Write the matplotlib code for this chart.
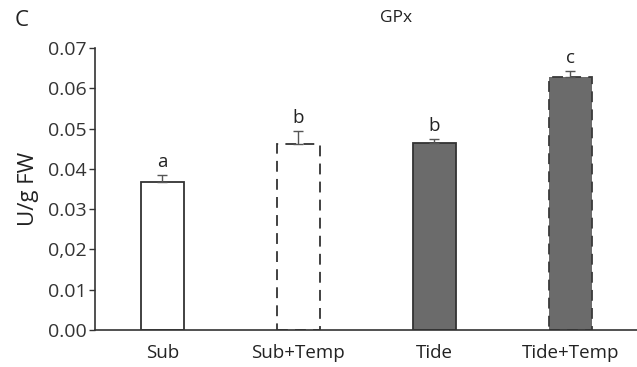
import numpy as np
import matplotlib.pyplot as plt

plt.rcParams['font.family'] = ['Open Sans', 'DejaVu Sans']

groups = ['Sub', 'Sub+Temp', 'Tide', 'Tide+Temp']
gpx = [0.0367, 0.0462, 0.0464, 0.0628]
gpx_err = [0.0017, 0.0032, 0.0010, 0.0015]
letters = ['a', 'b', 'b', 'c']
yticks = [0.00, 0.01, 0.02, 0.03, 0.04, 0.05, 0.06, 0.07]
ytick_labels = ['0.00', '0.01', '0,02', '0.03', '0.04', '0.05', '0.06', '0.07']

fills = ['white', 'white', '#6b6b6b', '#6b6b6b']
edges = ['#333333', '#333333', '#333333', '#3a3a3a']
styles = ['-', (0, (6, 4)), '-', (0, (6, 4))]

x = np.arange(len(groups))
width = 0.32

fig = plt.figure(figsize=(6.37, 3.67), dpi=100)
ax = fig.add_axes([0.149, 0.1008, 0.851, 0.768])

for i in range(len(groups)):
    ax.bar(x[i], gpx[i], width, color=fills[i], edgecolor=edges[i],
           linewidth=1.3, linestyle=styles[i], zorder=2)
ax.errorbar(x, gpx, yerr=[np.zeros(len(gpx)), gpx_err], fmt='none',
            ecolor='#555555', elinewidth=1.0, capsize=3.6, capthick=1.0,
            zorder=3)

for i in range(len(groups)):
    ax.annotate(letters[i], (x[i], gpx[i] + gpx_err[i]),
                xytext=(0, 3), textcoords='offset points',
                ha='center', va='bottom', fontsize=13.5, color='#222222')

ax.set_xlim(-0.496, 3.49)
ax.set_ylim(0, 0.07)
ax.set_yticks(yticks)
ax.set_yticklabels(ytick_labels)
ax.set_xticks(x)
ax.set_xticklabels(groups)
ax.tick_params(axis='y', length=4, width=1, color='#333333',
               labelsize=14, labelcolor='#333333', pad=2)
ax.tick_params(axis='x', length=0, labelsize=13.5, labelcolor='#222222', pad=10)

for side in ['top', 'right']:
    ax.spines[side].set_visible(False)
for side in ['left', 'bottom']:
    ax.spines[side].set_color('#333333')
    ax.spines[side].set_linewidth(1.2)

ax.set_ylabel('U/g FW', fontsize=16, color='#222222', labelpad=6)
fig.text(396 / 637, 1 - 18 / 367, 'GPx', ha='center', va='center',
         fontsize=12.5, color='#222222')
fig.text(22 / 637, 1 - 20 / 367, 'C', ha='center', va='center',
         fontsize=16, color='#222222')

fig.savefig('out.png', dpi=100)
